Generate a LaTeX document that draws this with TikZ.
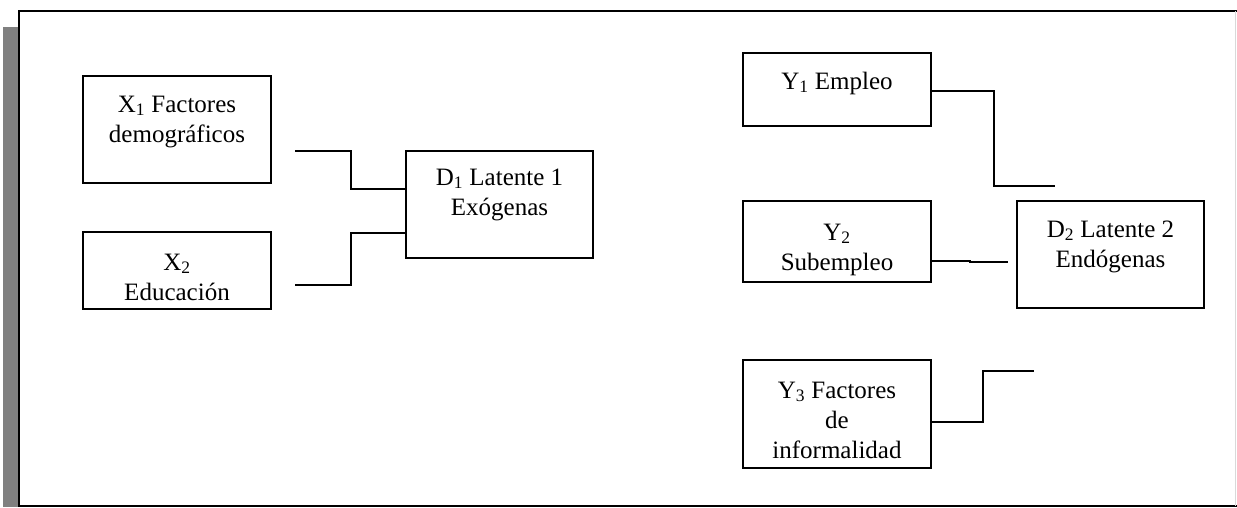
\documentclass[tikz,border=0pt]{standalone}
\usepackage{fontspec}
\setmainfont{Liberation Serif}
\begin{document}
\begin{tikzpicture}[x=1pt,y=-1pt,
  box/.style={draw, line width=1.2pt, inner sep=0pt},
  txt/.style={anchor=north, inner sep=0pt, align=center, font=\fontsize{25}{30}\selectfont},
  conn/.style={line width=1.5pt},
  frame/.style={line width=1.6pt, black}]
\useasboundingbox (0,0) rectangle (1237,507);
% frame
\fill[gray!95!white, fill=gray] (3,27) rectangle (18,507);
\draw[frame] (1237,11) -- (19,11) -- (19,506) -- (1237,506);
\draw[line width=1pt, black!15] (1235.5,11) -- (1235.5,506);
% boxes
\node[box, minimum width=188pt, minimum height=107pt] (x1) at (177,129.5) {};
\node[box, minimum width=188pt, minimum height=77pt]  (x2) at (177,270.5) {};
\node[box, minimum width=187pt, minimum height=107pt] (d1) at (499.5,204.5) {};
\node[box, minimum width=188pt, minimum height=73pt]  (y1) at (837,89.5) {};
\node[box, minimum width=188pt, minimum height=81pt]  (y2) at (837,241.5) {};
\node[box, minimum width=187pt, minimum height=107pt] (d2) at (1110.5,254.5) {};
\node[box, minimum width=188pt, minimum height=108pt] (y3) at (837,414) {};
% texts
\node[txt] (x1t) at (177,91) {\strut X\textsubscript{1} Factores\\demográficos};
\node[txt] (x2t) at (177,249) {\strut X\textsubscript{2}\\Educación};
\node[txt] (d1t) at (499.5,164) {\strut D\textsubscript{1} Latente 1\\Exógenas};
\node[txt] (y1t) at (837,68) {\strut Y\textsubscript{1} Empleo};
\node[txt] (y2t) at (837,219) {\strut Y\textsubscript{2}\\Subempleo};
\node[txt] (d2t) at (1110.5,216) {\strut D\textsubscript{2} Latente 2\\Endógenas};
\node[txt] (y3t) at (837,377) {\strut Y\textsubscript{3} Factores\\de\\informalidad};
% connector free ends
\coordinate (x1o) at (295,151);
\coordinate (x2o) at (295,285);
\coordinate (y1e) at (1055,186);
\coordinate (y2e) at (1008,262);
\coordinate (y3e) at (1034,371);
% connectors
\draw[conn] (x1o) -- ++(56,0) |- ([yshift=15.5pt]d1.west);
\draw[conn] (x2o) -- ++(56,0) |- ([yshift=-28.5pt]d1.west);
\draw[conn] ([yshift=-1.5pt]y1.east) -| (994,186) -- (y1e);
\draw[conn] ([yshift=-19.5pt]y2.east) -- (970,261) -- (970,262) -- (y2e);
\draw[conn] ([yshift=-8pt]y3.east) -| (983,371) -- (y3e);
\end{tikzpicture}
\end{document}
